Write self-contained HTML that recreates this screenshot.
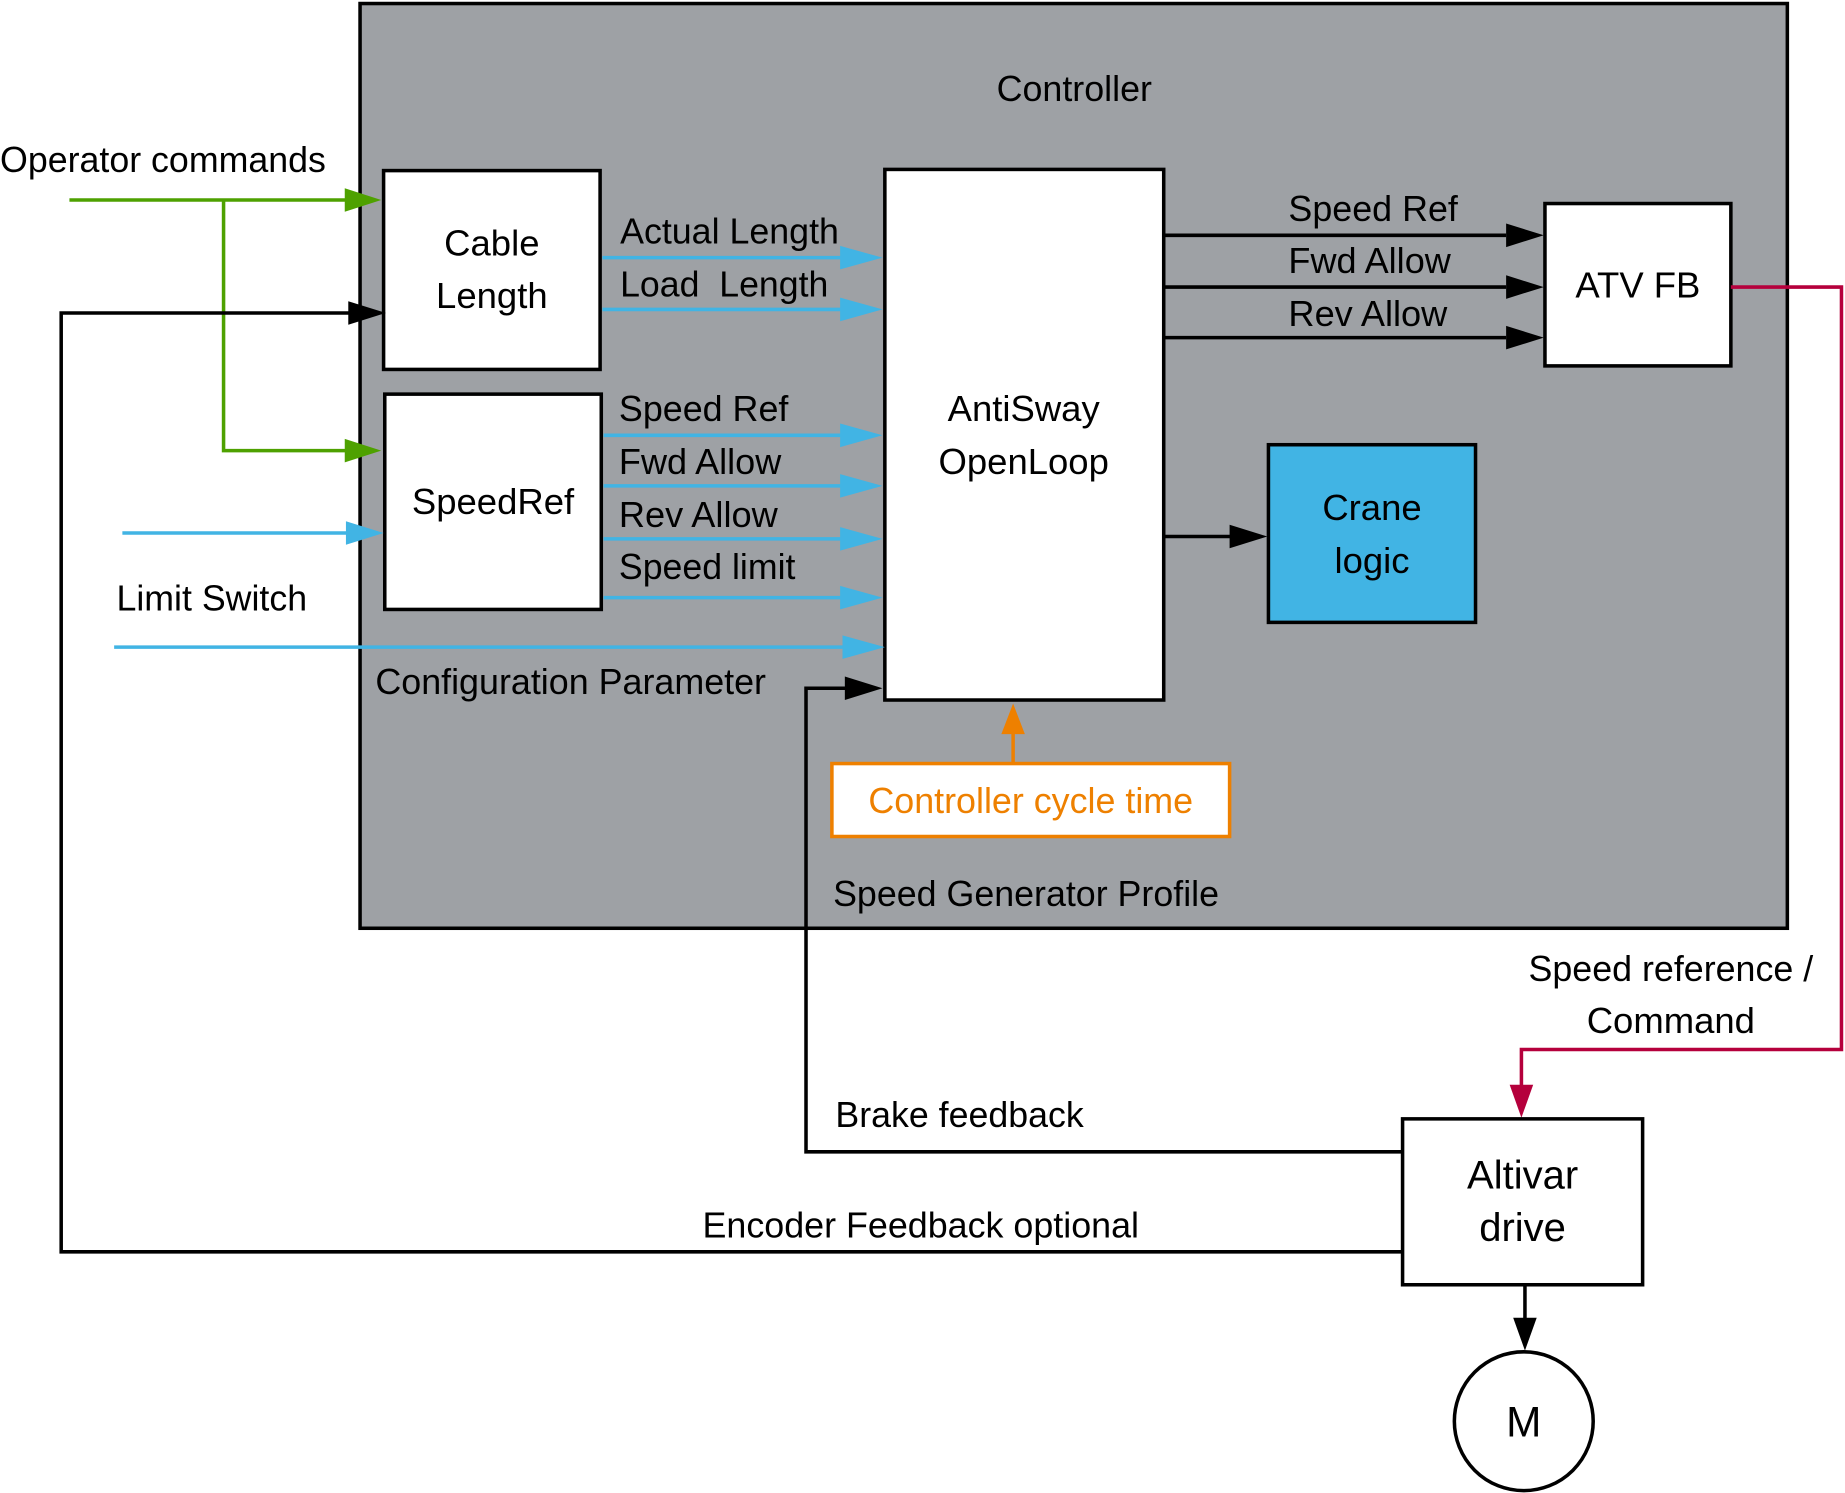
<!DOCTYPE html>
<html><head><meta charset="utf-8"><style>
html,body{margin:0;padding:0;background:#fff;}
svg{display:block;}
text{font-family:"Liberation Sans Narrow","Liberation Sans",sans-serif;font-size:31px;fill:#000;}
</style></head><body>
<svg width="1845" height="1493" viewBox="0 0 1568 1269" preserveAspectRatio="none" xmlns="http://www.w3.org/2000/svg">
<rect x="306" y="3" width="1213" height="786" style="fill:#9ea1a5" stroke="#000" stroke-width="3"/>
<text x="847" y="86" textLength="132" lengthAdjust="spacingAndGlyphs">Controller</text>

<rect x="326" y="145" width="184" height="169" fill="#fff" stroke="#000" stroke-width="3"/>
<text x="418" y="217" text-anchor="middle">Cable</text>
<text x="418" y="262" text-anchor="middle">Length</text>
<rect x="327" y="335" width="184" height="183" fill="#fff" stroke="#000" stroke-width="3"/>
<text x="419" y="437" text-anchor="middle">SpeedRef</text>
<rect x="752" y="144" width="237" height="451" fill="#fff" stroke="#000" stroke-width="3"/>
<text x="870" y="358" text-anchor="middle">AntiSway</text>
<text x="870" y="403" text-anchor="middle">OpenLoop</text>
<rect x="1313" y="173" width="158" height="138" fill="#fff" stroke="#000" stroke-width="3"/>
<text x="1392" y="253" text-anchor="middle">ATV FB</text>
<rect x="1078" y="378" width="176" height="151" fill="#41b4e4" stroke="#000" stroke-width="3"/>
<text x="1166" y="442" text-anchor="middle">Crane</text>
<text x="1166" y="487" text-anchor="middle">logic</text>
<rect x="707" y="649" width="338" height="62" fill="#fff" stroke="#ee8000" stroke-width="3"/>
<text x="876" y="691" text-anchor="middle" style="fill:#ee8000" textLength="276" lengthAdjust="spacingAndGlyphs">Controller cycle time</text>
<text x="708" y="770" textLength="328" lengthAdjust="spacingAndGlyphs">Speed Generator Profile</text>

<g stroke="#4ea100" stroke-width="3" fill="none">
<polyline points="59,170 300,170"/>
<polyline points="190,170 190,383 300,383"/>
</g>
<path d="M293,160 L324,170 L293,180z" fill="#4ea100"/>
<path d="M293,373 L324,383 L293,393z" fill="#4ea100"/>
<text x="0" y="146" textLength="277" lengthAdjust="spacingAndGlyphs">Operator commands</text>

<g stroke="#41b4e4" stroke-width="3" fill="none">
<line x1="512" y1="219" x2="720" y2="219"/>
<line x1="512" y1="263" x2="720" y2="263"/>
<line x1="513" y1="370" x2="720" y2="370"/>
<line x1="513" y1="413" x2="720" y2="413"/>
<line x1="513" y1="458" x2="720" y2="458"/>
<line x1="513" y1="508" x2="720" y2="508"/>
<line x1="97" y1="550" x2="720" y2="550"/>
<line x1="104" y1="453" x2="300" y2="453"/>
</g>
<g fill="#41b4e4">
<path d="M714,209 L750,219 L714,229z"/>
<path d="M714,253 L750,263 L714,273z"/>
<path d="M714,360 L750,370 L714,380z"/>
<path d="M714,403 L750,413 L714,423z"/>
<path d="M714,448 L750,458 L714,468z"/>
<path d="M714,498 L750,508 L714,518z"/>
<path d="M716,540 L752,550 L716,560z"/>
<path d="M294,443 L326,453 L294,463z"/>
</g>
<text x="527" y="207" textLength="186" lengthAdjust="spacingAndGlyphs">Actual Length</text>
<text x="527" y="252" xml:space="preserve" textLength="177" lengthAdjust="spacingAndGlyphs">Load  Length</text>
<text x="526" y="358" textLength="144" lengthAdjust="spacingAndGlyphs">Speed Ref</text>
<text x="526" y="403" textLength="138" lengthAdjust="spacingAndGlyphs">Fwd Allow</text>
<text x="526" y="448" textLength="135" lengthAdjust="spacingAndGlyphs">Rev Allow</text>
<text x="526" y="492" textLength="150" lengthAdjust="spacingAndGlyphs">Speed limit</text>
<text x="99" y="519" textLength="162" lengthAdjust="spacingAndGlyphs">Limit Switch</text>
<text x="319" y="590" textLength="332" lengthAdjust="spacingAndGlyphs">Configuration Parameter</text>

<g stroke="#000" stroke-width="3" fill="none">
<line x1="989" y1="200" x2="1280" y2="200"/>
<line x1="989" y1="244" x2="1280" y2="244"/>
<line x1="989" y1="287" x2="1280" y2="287"/>
<line x1="989" y1="456" x2="1046" y2="456"/>
<polyline points="1192,979 685,979 685,585 720,585"/>
<polyline points="1192,1064 52,1064 52,266 300,266"/>
<line x1="1296" y1="1092" x2="1296" y2="1122"/>
</g>
<g fill="#000">
<path d="M1280,190 L1312,200 L1280,210z"/>
<path d="M1280,234 L1312,244 L1280,254z"/>
<path d="M1280,277 L1312,287 L1280,297z"/>
<path d="M1045,446 L1077,456 L1045,466z"/>
<path d="M718,575 L750,585 L718,595z"/>
<path d="M296,256 L328,266 L296,276z"/>
<path d="M1286,1120 L1296,1148 L1306,1120z"/>
</g>
<text x="1095" y="188" textLength="144" lengthAdjust="spacingAndGlyphs">Speed Ref</text>
<text x="1095" y="232" textLength="138" lengthAdjust="spacingAndGlyphs">Fwd Allow</text>
<text x="1095" y="277" textLength="135" lengthAdjust="spacingAndGlyphs">Rev Allow</text>

<line x1="861" y1="649" x2="861" y2="620" stroke="#ee8000" stroke-width="3"/>
<path d="M851,624 L861,598 L871,624z" fill="#ee8000"/>

<polyline points="1471,244 1565,244 1565,892 1293,892 1293,925" stroke="#b5003c" stroke-width="3" fill="none"/>
<path d="M1283,922 L1293,950 L1303,922z" fill="#b5003c"/>
<text x="1299" y="834" textLength="242" lengthAdjust="spacingAndGlyphs">Speed reference /</text>
<text x="1420" y="878" text-anchor="middle">Command</text>

<rect x="1192" y="951" width="204" height="141" fill="#fff" stroke="#000" stroke-width="3"/>
<text x="1294" y="1010" text-anchor="middle" style="font-family:'Liberation Sans',sans-serif;font-size:34px">Altivar</text>
<text x="1294" y="1055" text-anchor="middle" style="font-family:'Liberation Sans',sans-serif;font-size:34px">drive</text>
<circle cx="1295" cy="1208" r="59" fill="#fff" stroke="#000" stroke-width="3"/>
<text x="1295" y="1221" text-anchor="middle" style="font-size:36px">M</text>
<text x="710" y="958" textLength="211" lengthAdjust="spacingAndGlyphs">Brake feedback</text>
<text x="597" y="1052" textLength="371" lengthAdjust="spacingAndGlyphs">Encoder Feedback optional</text>
</svg>
</body></html>
